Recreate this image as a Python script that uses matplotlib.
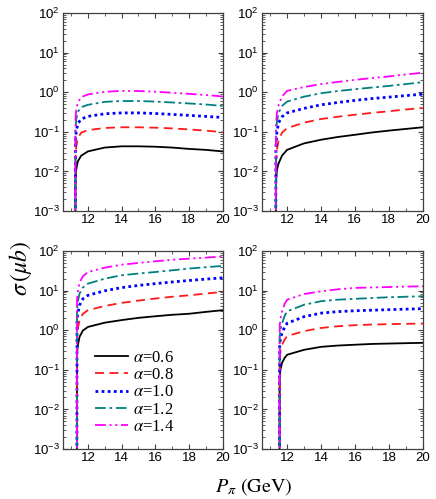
"""Cross section vs pion momentum, four panels, log scale."""

import matplotlib
matplotlib.use("Agg")
import matplotlib.pyplot as plt
from matplotlib.ticker import LogLocator, MultipleLocator, LogFormatterSciNotation

# ---------------------------------------------------------------------------
# Data
# ---------------------------------------------------------------------------

ALPHAS = ["0.6", "0.8", "1.0", "1.2", "1.4"]

# top-left panel
P_TL = [11.25, 11.26, 11.3, 11.4, 11.6, 12, 13, 14, 15, 16, 17, 18, 19, 20]
SIG_TL = [
    [1e-4, 0.006, 0.011, 0.018, 0.025, 0.032, 0.040, 0.043, 0.043, 0.042, 0.040, 0.037, 0.035, 0.032],
    [1e-4, 0.020, 0.040, 0.070, 0.095, 0.110, 0.125, 0.130, 0.130, 0.127, 0.122, 0.115, 0.107, 0.098],
    [1e-4, 0.050, 0.100, 0.160, 0.210, 0.245, 0.285, 0.300, 0.300, 0.290, 0.275, 0.260, 0.245, 0.230],
    [1e-4, 0.100, 0.200, 0.320, 0.420, 0.480, 0.570, 0.600, 0.600, 0.580, 0.550, 0.520, 0.490, 0.450],
    [1e-4, 0.200, 0.350, 0.550, 0.750, 0.880, 1.020, 1.080, 1.070, 1.030, 0.970, 0.910, 0.850, 0.780],
]

# top-right panel
P_TR = [11.33, 11.34, 11.4, 11.5, 11.7, 12, 13, 14, 15, 16, 17, 18, 19, 20]
SIG_TR = [
    [1e-4, 0.005, 0.011, 0.016, 0.025, 0.035, 0.051, 0.063, 0.074, 0.084, 0.096, 0.107, 0.118, 0.130],
    [1e-4, 0.015, 0.035, 0.063, 0.095, 0.124, 0.170, 0.210, 0.240, 0.270, 0.300, 0.330, 0.365, 0.400],
    [1e-4, 0.040, 0.100, 0.170, 0.240, 0.300, 0.390, 0.480, 0.550, 0.620, 0.690, 0.750, 0.820, 0.890],
    [1e-4, 0.080, 0.180, 0.300, 0.450, 0.580, 0.770, 0.940, 1.070, 1.190, 1.310, 1.440, 1.600, 1.790],
    [1e-4, 0.150, 0.300, 0.480, 0.780, 1.080, 1.350, 1.600, 1.820, 2.050, 2.270, 2.500, 2.800, 3.100],
]

# bottom-left panel
P_BL = [11.34, 11.35, 11.4, 11.5, 11.7, 12, 13, 14, 15, 16, 17, 18, 19, 20]
SIG_BL = [
    [1e-4, 0.25, 0.42, 0.68, 0.98, 1.21, 1.55, 1.80, 2.05, 2.25, 2.45, 2.60, 2.90, 3.20],
    [1e-4, 0.70, 1.10, 1.80, 2.60, 3.20, 4.10, 4.90, 5.60, 6.30, 7.00, 7.60, 8.40, 9.30],
    [1e-4, 1.80, 2.70, 4.30, 6.20, 7.60, 9.90, 11.9, 13.5, 15.0, 16.5, 18.0, 19.5, 21.0],
    [1e-4, 3.50, 5.30, 8.40, 12.0, 15.0, 20.0, 24.4, 27.0, 29.5, 32.5, 36.0, 39.0, 42.0],
    [1e-4, 6.00, 9.50, 16.0, 23.0, 29.5, 38.0, 45.0, 50.0, 55.0, 60.0, 64.0, 68.0, 73.0],
]

# bottom-right panel
P_BR = [11.55, 11.56, 11.6, 11.7, 11.85, 12, 13, 14, 15, 16, 17, 18, 19, 20]
SIG_BR = [
    [1e-4, 0.06, 0.10, 0.15, 0.20, 0.24, 0.32, 0.38, 0.41, 0.43, 0.45, 0.46, 0.47, 0.48],
    [1e-4, 0.20, 0.30, 0.43, 0.58, 0.71, 0.95, 1.14, 1.26, 1.34, 1.39, 1.42, 1.45, 1.47],
    [1e-4, 0.40, 0.60, 0.86, 1.20, 1.50, 2.20, 2.70, 2.95, 3.10, 3.20, 3.30, 3.40, 3.50],
    [1e-4, 0.70, 1.00, 1.50, 2.30, 3.00, 4.40, 5.40, 5.90, 6.20, 6.50, 6.80, 7.00, 7.20],
    [1e-4, 1.30, 1.90, 3.00, 4.60, 5.90, 8.20, 9.60, 10.8, 11.7, 12.0, 12.3, 12.6, 12.9],
]

# ---------------------------------------------------------------------------
# Styles
# ---------------------------------------------------------------------------

STYLES = [
    dict(color="black", linestyle="-", linewidth=1.3),
    dict(color="#ff1a1a", linestyle=(0, (5, 3)), linewidth=1.3),
    dict(color="#0000ff", linestyle=(0, (1, 1.2)), linewidth=2.0),
    dict(color="#008080", linestyle=(0, (6, 2, 1.5, 2)), linewidth=1.3),
    dict(color="#ff00ff", linestyle=(0, (6, 2, 1.2, 2, 1.2, 2)), linewidth=1.3),
]

plt.rcParams.update({
    "font.family": ["Liberation Sans", "DejaVu Sans"],
    "font.size": 9,
    "mathtext.fontset": "stix",
    "axes.linewidth": 0.9,
    "axes.edgecolor": "#404040",
})

W, H = 436, 499
fig = plt.figure(figsize=(W / 100, H / 100), dpi=100)

# axes boxes in pixels: left, top, right, bottom
BOXES = [
    (62.7, 13, 222.5, 211),
    (261.7, 13, 422.5, 211),
    (62.7, 251, 222.7, 449),
    (261.7, 251, 423.0, 449),
]
PANELS = [(P_TL, SIG_TL), (P_TR, SIG_TR), (P_BL, SIG_BL), (P_BR, SIG_BR)]

axes = []
for (l, t, r, b), (p, sigs) in zip(BOXES, PANELS):
    ax = fig.add_axes([l / W, 1 - b / H, (r - l) / W, (b - t) / H])
    for alpha, sig, st in zip(ALPHAS, sigs, STYLES):
        ax.plot(p, sig, label=r"$\alpha$=%s" % alpha, **st)
    ax.set_yscale("log")
    ax.set_ylim(1e-3, 1e2)
    ax.set_xlim(10.5, 20)
    ax.xaxis.set_major_locator(MultipleLocator(2))
    ax.xaxis.set_minor_locator(MultipleLocator(1))
    ax.yaxis.set_major_locator(LogLocator(base=10, numticks=10))
    ax.yaxis.set_minor_locator(LogLocator(base=10, subs=range(2, 10), numticks=10))
    ax.yaxis.set_major_formatter(LogFormatterSciNotation())
    ax.tick_params(which="both", direction="in", top=True, right=True,
                   colors="#404040", labelcolor="black", labelsize=9.5, pad=2)
    ax.tick_params(which="major", length=3.5, width=0.8)
    ax.tick_params(which="minor", length=2, width=0.6)
    axes.append(ax)

leg = axes[2].legend(
    loc="lower left", bbox_to_anchor=(0.2, 0.07), frameon=False,
    prop={"family": "Liberation Serif", "size": 12},
    handlelength=2.0, handletextpad=0.3, labelspacing=0.08,
    borderpad=0, borderaxespad=0,
)

fig.text(0.047, 0.462, r"$\sigma\,(\mu b)$", rotation=90, fontsize=17,
         ha="center", va="center")
fig.text(0.583, 0.025, r"$P_{\pi}\ (\mathrm{GeV})$", fontsize=14.5,
         ha="center", va="center")

fig.savefig("out.png", dpi=100)
